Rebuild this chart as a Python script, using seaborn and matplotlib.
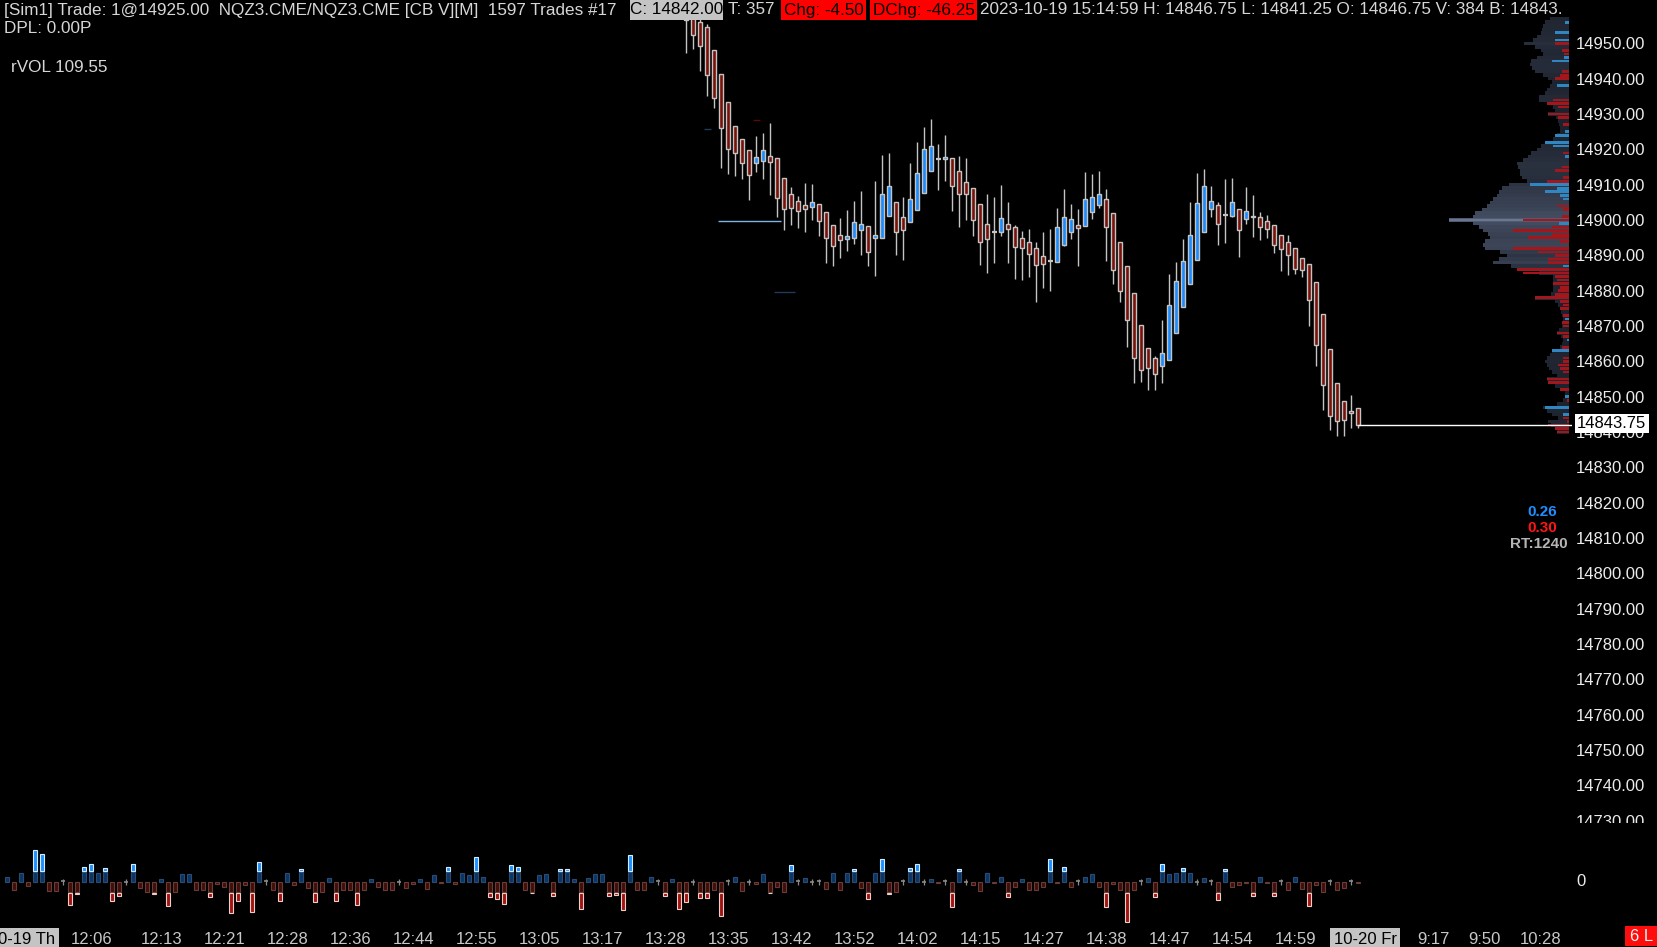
import numpy as np
import pandas as pd
import seaborn as sns
import matplotlib.pyplot as plt
from matplotlib.patches import Rectangle
from matplotlib.transforms import Bbox

W, H = 1658, 947

# price bars (last 97 bars of the session, oldest first)
opens = [14962.00, 14957.50, 14956.00, 14954.75, 14948.00, 14941.25, 14933.50, 14926.75, 14923.00, 14919.75,
         14916.25, 14916.75, 14918.25, 14917.50, 14912.00, 14907.50, 14905.50, 14904.25, 14903.75, 14904.50,
         14902.25, 14898.50, 14895.75, 14894.75, 14895.00, 14897.25, 14898.25, 14895.00, 14895.00, 14901.25,
         14905.25, 14901.00, 14899.50, 14902.75, 14907.75, 14914.00, 14917.25, 14917.25, 14917.50, 14913.75,
         14910.75, 14909.00, 14904.50, 14899.00, 14896.75, 14896.75, 14898.75, 14898.00, 14895.00, 14893.75,
         14892.00, 14889.75, 14888.50, 14888.25, 14893.00, 14896.75, 14898.50, 14898.25, 14902.25, 14904.25,
         14906.00, 14902.00, 14893.75, 14887.00, 14879.25, 14870.25, 14863.75, 14861.00, 14858.75, 14860.50,
         14868.00, 14875.25, 14882.00, 14888.75, 14896.75, 14903.00, 14904.25, 14901.50, 14901.25, 14903.25,
         14900.25, 14901.25, 14901.00, 14899.75, 14898.50, 14895.75, 14893.75, 14892.00, 14889.25, 14887.50,
         14882.50, 14873.50, 14863.50, 14854.00, 14848.75, 14846.00, 14846.75]
highs = [14965.00, 14959.00, 14957.00, 14955.50, 14948.00, 14941.25, 14933.50, 14926.75, 14923.00, 14919.75,
         14923.75, 14924.75, 14927.50, 14917.50, 14912.00, 14909.25, 14906.75, 14910.50, 14910.25, 14904.50,
         14902.25, 14898.50, 14900.50, 14902.75, 14905.50, 14908.25, 14898.25, 14911.00, 14918.50, 14919.00,
         14905.25, 14906.50, 14916.25, 14922.00, 14926.25, 14928.50, 14921.50, 14924.00, 14917.50, 14918.00,
         14917.50, 14909.00, 14904.50, 14907.50, 14906.50, 14910.00, 14905.25, 14898.50, 14897.00, 14897.50,
         14893.75, 14896.50, 14897.50, 14903.50, 14908.75, 14904.50, 14903.25, 14913.50, 14913.00, 14914.00,
         14908.75, 14902.00, 14893.75, 14887.00, 14879.25, 14870.25, 14863.75, 14861.50, 14871.75, 14884.75,
         14888.00, 14894.50, 14905.25, 14913.25, 14914.50, 14909.75, 14905.00, 14911.50, 14912.00, 14903.25,
         14909.25, 14907.00, 14902.25, 14901.50, 14898.50, 14895.75, 14895.75, 14892.00, 14889.25, 14887.50,
         14882.50, 14873.50, 14863.50, 14854.00, 14848.75, 14850.50, 14846.75]
lows = [14947.25, 14948.50, 14942.25, 14935.25, 14931.75, 14914.75, 14913.00, 14912.50, 14911.50, 14905.75,
        14913.50, 14911.50, 14907.00, 14900.75, 14897.25, 14898.50, 14897.75, 14896.50, 14900.00, 14895.50,
        14887.75, 14887.00, 14889.25, 14891.25, 14893.25, 14890.00, 14887.00, 14884.25, 14895.00, 14901.25,
        14890.00, 14888.75, 14899.50, 14902.75, 14907.75, 14914.00, 14908.50, 14911.00, 14902.50, 14898.00,
        14900.00, 14895.50, 14887.25, 14885.00, 14887.75, 14895.50, 14887.75, 14883.25, 14883.00, 14883.75,
        14876.75, 14880.75, 14880.00, 14888.25, 14892.75, 14894.75, 14887.00, 14898.25, 14900.25, 14903.50,
        14888.50, 14882.00, 14876.75, 14864.00, 14854.00, 14854.25, 14852.00, 14852.00, 14854.00, 14860.50,
        14868.00, 14875.25, 14882.00, 14888.75, 14896.75, 14901.00, 14893.00, 14893.50, 14900.75, 14889.50,
        14898.75, 14895.25, 14894.25, 14895.00, 14890.75, 14885.50, 14884.50, 14884.75, 14884.00, 14870.00,
        14858.75, 14846.25, 14840.50, 14839.00, 14839.00, 14841.25, 14841.25]
closes = [14956.50, 14952.50, 14949.25, 14941.00, 14934.50, 14926.00, 14920.25, 14919.00, 14916.25, 14912.75,
          14917.75, 14919.75, 14916.50, 14906.25, 14903.25, 14903.50, 14902.50, 14903.25, 14905.00, 14899.75,
          14895.00, 14892.75, 14894.25, 14895.50, 14899.50, 14899.00, 14891.00, 14895.75, 14907.25, 14909.50,
          14896.75, 14897.25, 14906.00, 14913.25, 14920.25, 14921.00, 14917.25, 14917.75, 14909.75, 14907.50,
          14907.50, 14900.00, 14893.75, 14894.50, 14896.75, 14900.50, 14897.50, 14892.25, 14892.00, 14890.50,
          14887.25, 14887.50, 14888.50, 14898.00, 14900.75, 14900.25, 14897.75, 14906.00, 14906.50, 14907.25,
          14898.00, 14885.75, 14880.00, 14871.75, 14861.00, 14857.50, 14858.00, 14856.50, 14862.25, 14876.00,
          14882.75, 14888.50, 14895.75, 14904.75, 14909.50, 14905.50, 14898.75, 14901.50, 14905.00, 14897.25,
          14902.50, 14900.75, 14898.00, 14897.50, 14893.00, 14891.75, 14890.00, 14886.25, 14885.75, 14877.50,
          14864.75, 14853.25, 14844.50, 14843.25, 14843.50, 14845.50, 14842.00]
first_price_bar = 97

# delta subgraph, one value per bar (194 bars)
bar_delta = [43, -83, 90, -40, 313, 273, -93, -93, 5, -230,
             -127, 143, 173, 90, 133, -190, -140, -3, 173, -67,
             -100, -127, 23, -240, -100, 80, 80, -83, -83, -150,
             -23, -50, -310, -190, -33, -300, 193, 3, -83, -190,
             90, -33, 123, -67, -200, -100, 33, -190, -83, -83,
             -230, -83, 23, -57, -83, -83, -3, -67, -27, 23,
             -77, 67, -17, 143, -27, 90, 67, 243, 43, -150,
             -170, -220, 163, 143, -83, -117, 67, 80, -140, 123,
             123, 23, -270, 33, 80, 80, -140, -130, -280, 263,
             -83, -83, 50, 3, -140, 23, -270, -200, -3, -160,
             -160, -83, -340, 3, 43, -93, -3, -27, 80, -117,
             -50, -100, 163, 3, 33, -3, 3, -77, 90, -83,
             90, 123, -67, -170, 90, 223, -127, -100, 3, 133,
             173, -3, 23, -17, 3, -250, 123, -3, -33, -90,
             90, -17, 43, -150, -57, 23, -83, -83, -57, 223,
             -17, 143, -50, 3, 43, 80, -57, -250, -27, -83,
             -400, -83, 3, 33, -150, 173, 80, 90, 133, 90,
             -3, 33, 3, -180, 123, -57, -33, -17, -140, 43,
             -17, -140, 3, -83, 50, -77, -240, -33, -100, 3,
             -83, -67, 3, -17]

# volume profile, one row per point from 14957 down to 14840
profile_top = 14957
profile_volume = [19, 24, 26, 27, 28, 32, 36, 45, 34, 28, 26, 32, 38, 39, 37, 34, 26, 21, 17, 19,
                  22, 24, 30, 30, 22, 16, 14, 21, 13, 11, 10, 9, 9, 12, 16, 23, 28, 32, 38, 41,
                  46, 52, 51, 49, 49, 47, 42, 60, 67, 70, 72, 76, 79, 82, 87, 94, 96, 120, 96, 90,
                  86, 81, 79, 84, 86, 84, 69, 62, 70, 76, 58, 52, 30, 16, 16, 16, 16, 16, 18, 34,
                  14, 11, 9, 8, 7, 6, 6, 7, 10, 12, 8, 6, 7, 9, 17, 19, 22, 24, 22, 20,
                  17, 12, 22, 19, 14, 9, 4, 3, 6, 12, 26, 22, 17, 11, 21, 18, 12, 12]
profile_delta = [0, 4, 0, 0, 14, 0, 14, -14, 0, -7, -5, 5, 17, 0, 0, -7, -9, -14, 0, 12,
                 0, 0, 0, -16, -22, -11, 0, -21, -11, 0, -6, 0, 4, 14, 0, 24, 16, 0, -6, 4,
                 0, 0, -7, -14, 0, -6, -22, 39, 12, 24, 9, 6, 0, -12, -6, 0, -7, -46, 10, -17,
                 -56, -17, -41, -9, 0, -56, -31, -14, -21, -21, 6, -52, -46, -14, -12, -16, -9, -11, -14, -34,
                 -9, -6, -9, 0, -6, 4, -7, -6, 0, -12, -6, 2, 0, -7, 17, 0, -6, -6, -11, -9,
                 -6, 0, -22, -21, 0, -9, 0, 4, -2, 0, 24, 0, 6, -6, -2, -21, -14, -12]
poc_price = 14900

price_ticks = list(range(14730, 14960, 10))
time_labels = ["0-19 Th", "12:06", "12:13", "12:21", "12:28", "12:36", "12:44", "12:55", "13:05",
               "13:17", "13:28", "13:35", "13:42", "13:52", "14:02", "14:15", "14:27", "14:38",
               "14:47", "14:54", "14:59", "10-20 Fr", "9:17", "9:50", "10:28"]
time_label_bars = [2.8, 12, 22, 31, 40, 49, 58, 67, 76, 85, 94, 103, 112, 121, 130, 139, 148, 157,
                   166, 175, 184, 194, 203.8, 211, 219]

sns.set_theme(style="dark", rc={"axes.facecolor": "black", "figure.facecolor": "black",
                                "savefig.facecolor": "black"})
plt.rcParams['font.family'] = ['Liberation Sans', 'DejaVu Sans']


def fpos(x, y):
    return x / W, 1 - y / H


def box(fig, x0, x1, y0, y1, color):
    fig.add_artist(Rectangle(fpos(x0, y1), (x1 - x0) / W, (y1 - y0) / H, transform=fig.transFigure,
                             facecolor=color, edgecolor='none', zorder=5))


fig = plt.figure(figsize=(W / 100, H / 100), dpi=100)
# bar k sits at pixel 7k + 7.3
xlim = (-7.3 / 7, (1572 - 7.3) / 7)

ax = fig.add_axes([0, 1 - 823 / H, 1572 / W, 823 / H])
axv = fig.add_axes([0, 1 - 926 / H, 1572 / W, 90 / H])
for a in (ax, axv):
    a.set_facecolor('black')
    a.set_xlim(*xlim)
    sns.despine(ax=a, left=True, bottom=True)
    a.grid(False)

ax.set_ylim(14950 - (823 - 43.4) / 3.533, 14950 + 43.4 / 3.533)

# --- candles
df = pd.DataFrame(dict(o=opens, h=highs, l=lows, c=closes))
df['k'] = np.arange(first_price_bar, first_price_bar + len(df))
up = df.c > df.o
dn = df.c < df.o
eq = ~(up | dn)
ax.vlines(df.k, df.l, df.h, color='#c4c4c4', lw=1.0, zorder=2)
ax.bar(df.k[up], (df.c - df.o)[up], bottom=df.o[up], width=0.6, color='#1a8cff',
       edgecolor='#c4c4c4', lw=1.0, zorder=3)
ax.bar(df.k[dn], (df.o - df.c)[dn], bottom=df.c[dn], width=0.6, color='#7a1008',
       edgecolor='#c4c4c4', lw=1.0, zorder=3)
ax.hlines(df.c[eq], df.k[eq] - 0.33, df.k[eq] + 0.33, color='#c4c4c4', lw=1.6, zorder=3)

# small reference marks
ax.hlines(14899.75, 101.5, 110.5, color='#7db4e6', lw=1.0)
ax.hlines(14925.7, 99.5, 100.5, color='#1f3a5a', lw=1.0)
ax.hlines(14928.3, 106.5, 107.5, color='#5a0a0a', lw=1.0)
ax.hlines(14879.5, 109.5, 112.5, color='#1f3a5a', lw=1.0)

# --- volume profile on the right edge
levels = np.arange(profile_top, profile_top - len(profile_volume), -1)
vol = np.array(profile_volume, dtype=float)
pdelta = np.array(profile_delta, dtype=float)
x_right = (1569 - 7.3) / 7
pal = sns.blend_palette(['#191e28', '#2c3342', '#505b72'], n_colors=121)
ax.barh(levels, vol / 7, left=x_right - vol / 7, height=1.0,
        color=[pal[int(v)] for v in vol], lw=0, zorder=2)
poc_w = vol.max() / 7
ax.barh(poc_price, poc_w, left=x_right - poc_w, height=0.45, color='#6a7590', lw=0, zorder=2)
dcol = ['#2f86c0' if d > 0 else '#a3161b' for d in pdelta]
ax.barh(levels, np.abs(pdelta) / 7, left=x_right - np.abs(pdelta) / 7, height=0.75,
        color=dcol, lw=0, zorder=3)

# last price line and label
ax.hlines(closes[-1], df.k.iloc[-1], x_right + 0.4, color='white', lw=1.0, zorder=4)
ax.annotate("14843.75", xy=(1.0, 14842.4), xycoords=ax.get_yaxis_transform(),
            xytext=(5, 0), textcoords='offset pixels', ha='left', va='center',
            fontsize=12, color='black', zorder=10, annotation_clip=False,
            bbox=dict(boxstyle='square,pad=0.14', fc='white', ec='none'))

# price scale
ax.yaxis.tick_right()
ax.set_yticks(price_ticks)
ax.set_yticklabels([f"{p:.2f}" for p in price_ticks])
ax.tick_params(axis='y', length=0, pad=3, labelsize=12, labelcolor='#ececec')
ax.set_xticks([])
clip = Bbox.from_extents(1500, H - 823, W, H)
for t in ax.get_yticklabels():
    t.set_clip_box(clip)
    t.set_clip_on(True)

# --- delta subgraph
delta = np.array(bar_delta, dtype=float)
kk = np.arange(len(delta))
dark = np.clip(delta, -100, 100)
pos = delta > 5
neg = delta < -5
axv.bar(kk[pos], dark[pos], width=0.6, color='#0b3565', edgecolor='#2b4b73', lw=0.8, zorder=2)
axv.bar(kk[neg], dark[neg], width=0.6, color='#3f0f0b', edgecolor='#6b3b35', lw=0.8, zorder=2)
big_up = delta > 110
big_dn = delta < -110
axv.bar(kk[big_up], delta[big_up] - 110, bottom=110, width=0.6, color='#1e90ff',
        edgecolor='#d8ecff', lw=0.8, zorder=3)
axv.bar(kk[big_dn], delta[big_dn] + 110, bottom=-110, width=0.6, color='#a3130f',
        edgecolor='#ead0cc', lw=0.8, zorder=3)
flat = np.abs(delta) <= 5
axv.vlines(kk[flat], -30, 30, color='#8a8a8a', lw=0.9)
axv.hlines(delta[flat], kk[flat] - 0.3, kk[flat] + 0.3, color='#8a8a8a', lw=1.2)
axv.set_ylim(-(926 - 881.7) * 10, (881.7 - 836) * 10)
axv.set_yticks([])

axv.set_xticks(time_label_bars)
axv.set_xticklabels(time_labels)
axv.tick_params(axis='x', length=0, pad=4, labelsize=12, labelcolor='#c8c8c8')
for t in axv.get_xticklabels():
    if t.get_text() in ("0-19 Th", "10-20 Fr"):
        t.set_color('black')
        t.set_bbox(dict(boxstyle='square,pad=0.2', fc='#c4c4c4', ec='none'))

# --- header and side texts
hc = '#d6d6d6'
fs = 12.35
fig.text(*fpos(4, 10), "[Sim1] Trade: 1@14925.00  NQZ3.CME/NQZ3.CME [CB V][M]  1597 Trades #17",
         color=hc, fontsize=fs, va='center', ha='left', zorder=6)
box(fig, 630, 723, 0, 20, '#c4c4c4')
fig.text(*fpos(676.5, 10), "C: 14842.00", color='black', fontsize=fs, va='center', ha='center', zorder=6)
fig.text(*fpos(728, 10), "T: 357", color=hc, fontsize=fs, va='center', ha='left', zorder=6)
box(fig, 781, 866, 0, 20, '#ff0000')
fig.text(*fpos(823.5, 10), "Chg: -4.50", color='black', fontsize=fs, va='center', ha='center', zorder=6)
box(fig, 870, 977, 0, 20, '#ff0000')
fig.text(*fpos(923.5, 10), "DChg: -46.25", color='black', fontsize=fs, va='center', ha='center', zorder=6)
fig.text(*fpos(980, 10), "2023-10-19 15:14:59 H: 14846.75 L: 14841.25 O: 14846.75 V: 384 B: 14843.",
         color=hc, fontsize=fs, va='center', ha='left', zorder=6)
fig.text(*fpos(4, 28.5), "DPL: 0.00P", color=hc, fontsize=fs, va='center', ha='left')
fig.text(*fpos(11, 68), "rVOL 109.55", color=hc, fontsize=fs, va='center', ha='left')

fig.text(*fpos(1557, 512), "0.26", color='#1f8fff', fontsize=11, fontweight='bold', va='center', ha='right')
fig.text(*fpos(1557, 528), "0.30", color='#ff1616', fontsize=11, fontweight='bold', va='center', ha='right')
fig.text(*fpos(1568, 544), "RT:1240", color='#b4b4b4', fontsize=11, fontweight='bold', va='center', ha='right')
fig.text(*fpos(1576, 881), "0", color='#ececec', fontsize=12, va='center', ha='left')
box(fig, 1625, 1658, 926, 946, '#ff0d0d')
fig.text(*fpos(1641.5, 936), "6 L", color='#f4f4f4', fontsize=12, va='center', ha='center', zorder=6)

fig.savefig("out.png", dpi=100, facecolor='black')
